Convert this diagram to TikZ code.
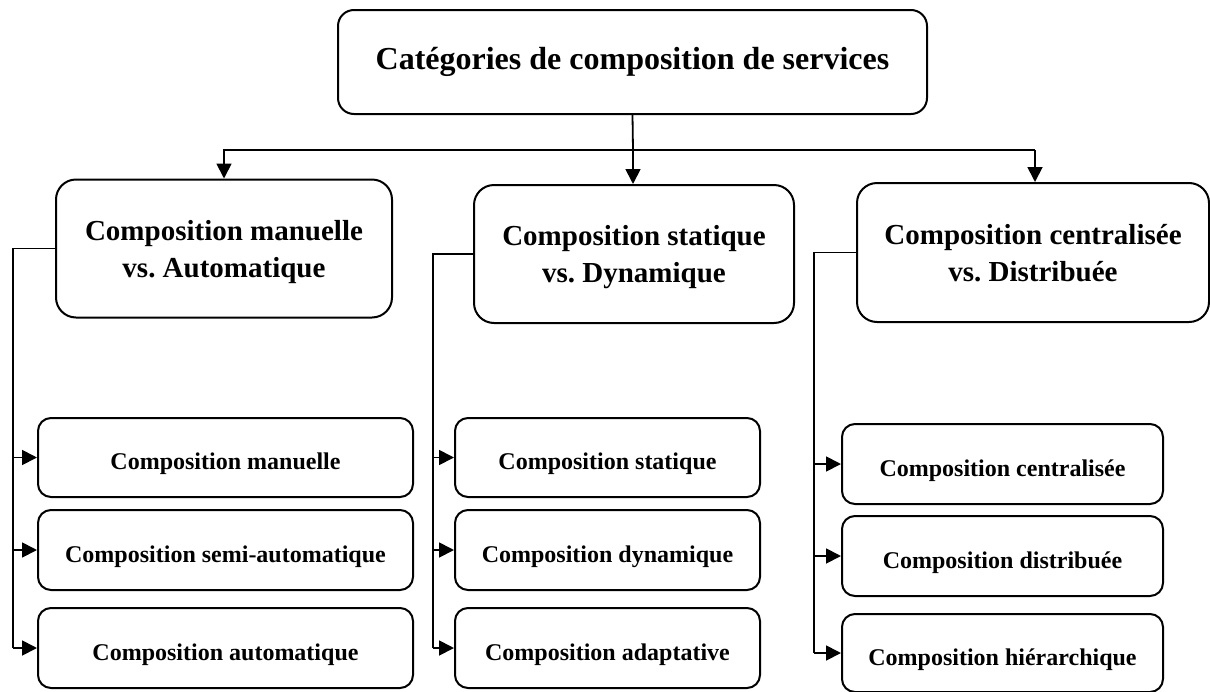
\documentclass[tikz,border=0pt]{standalone}
\usepackage{fontspec}
\setmainfont{Liberation Serif}
\usetikzlibrary{arrows.meta}
\newcommand\dropby[2]{\raisebox{-#1}[\height][\depth]{#2}}
\newcommand\twolines[2]{\dropby{3pt}{\begin{tabular}{@{}c@{}}#1\\#2\end{tabular}}}
\begin{document}
\frenchspacing
\begin{tikzpicture}[x=1pt,y=-1pt,
  box/.style={draw,line width=2pt,rounded corners=#1,align=center,inner sep=0pt},
  topbox/.style={box=16pt,minimum width=589pt,minimum height=104pt,font=\fontsize{32}{38}\selectfont\bfseries},
  midbox/.style={box=20pt,minimum height=138pt,font=\fontsize{29}{37}\selectfont\bfseries},
  childbox/.style={box=13pt,minimum height=79pt,font=\fontsize{24}{28}\selectfont\bfseries,text height=24pt,text depth=0pt},
  link/.style={line width=1.8pt},
  arr/.style={link,-{Triangle[length=15pt,width=15pt]}}
]
\useasboundingbox (0,0) rectangle (1210,691);
\node[topbox] (top) at (632.5,62) {Catégories de composition de services};
\node[midbox,minimum width=336pt] (m1) at (224,248.5) {\twolines{Composition manuelle}{vs. Automatique}};
\node[midbox,minimum width=320pt] (m2) at (634,254) {\twolines{Composition statique}{vs. Dynamique}};
\node[midbox,minimum width=352pt,minimum height=139pt] (m3) at (1033,252.5) {\twolines{Composition centralisée}{vs. Distribuée}};

\node[childbox,minimum width=375pt] (a1) at (225.5,457.5) {Composition manuelle};
\node[childbox,minimum width=375pt,minimum height=80pt] (a2) at (225.5,550) {Composition semi-automatique};
\node[childbox,minimum width=375pt,minimum height=80pt] (a3) at (225.5,648) {Composition automatique};

\node[childbox,minimum width=305pt] (b1) at (607.5,457.5) {Composition statique};
\node[childbox,minimum width=305pt,minimum height=80pt] (b2) at (607.5,550) {Composition dynamique};
\node[childbox,minimum width=305pt,minimum height=80pt] (b3) at (607.5,648) {Composition adaptative};

\node[childbox,minimum width=321pt,minimum height=80pt] (c1) at (1002.5,464) {Composition centralisée};
\node[childbox,minimum width=321pt,minimum height=80pt] (c2) at (1002.5,556) {Composition distribuée};
\node[childbox,minimum width=321pt,minimum height=78pt] (c3) at (1002.5,653) {Composition hiérarchique};

% top connectors
\coordinate (bus) at (633,150);
\draw[link] (top.south) -- (bus);
\draw[arr] (bus) -| (m1.north);
\draw[arr] (bus) -- (bus |- m2.north);
\coordinate (r3) at (1035,150);
\draw[link] (bus) -- (r3);
\draw[arr] (r3) -- (r3 |- m3.north);

% left column
\coordinate (la) at (13,248);
\draw[link] (m1.west) -- (m1.west -| la) -- (la |- a3.west);
\draw[arr] (la |- a1.west) -- (a1.west);
\draw[arr] (la |- a2.west) -- (a2.west);
\draw[arr] (la |- a3.west) -- (a3.west);

% middle column
\coordinate (lb) at (433,255);
\draw[link] (m2.west) -- (m2.west -| lb) -- (lb |- b3.west);
\draw[arr] (lb |- b1.west) -- (b1.west);
\draw[arr] (lb |- b2.west) -- (b2.west);
\draw[arr] (lb |- b3.west) -- (b3.west);

% right column
\coordinate (lc) at (814,255);
\draw[link] (m3.west) -- (m3.west -| lc) -- (lc |- c3.west);
\draw[arr] (lc |- c1.west) -- (c1.west);
\draw[arr] (lc |- c2.west) -- (c2.west);
\draw[arr] (lc |- c3.west) -- (c3.west);
\end{tikzpicture}
\end{document}
